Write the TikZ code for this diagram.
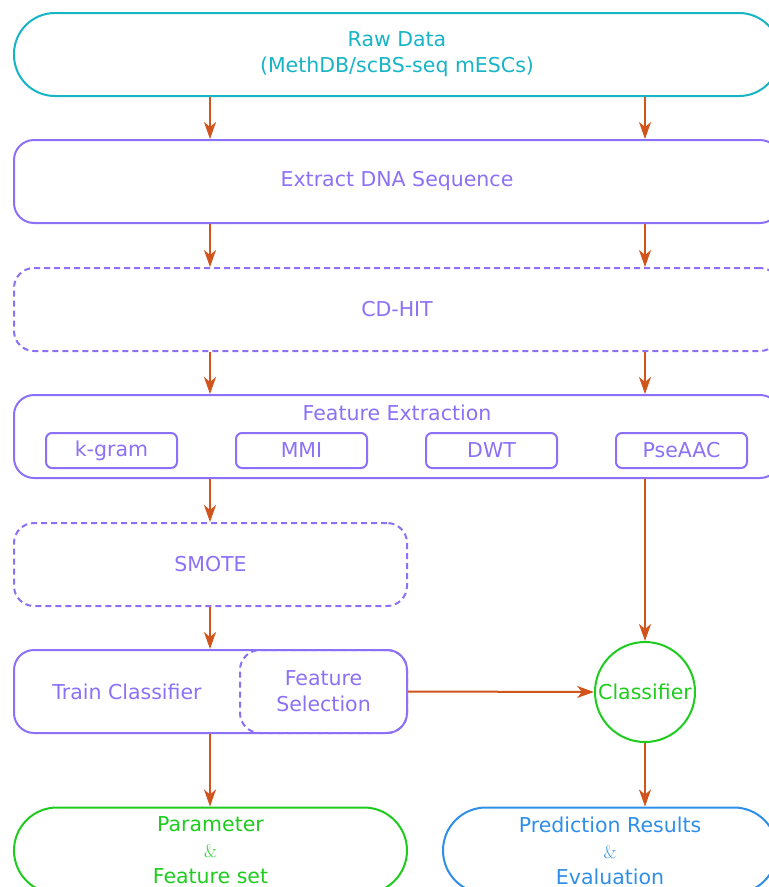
\documentclass[tikz,border=0pt]{standalone}
\usepackage{fontspec}
\newfontfamily\dvs{DejaVu Sans}
\usetikzlibrary{arrows.meta,positioning}
\definecolor{rawcol}{RGB}{23,180,198}
\definecolor{stepcol}{RGB}{140,112,246}
\definecolor{arrcol}{RGB}{208,84,28}
\definecolor{okcol}{RGB}{30,204,30}
\definecolor{rescol}{RGB}{46,142,232}
\tikzset{
  stepbox/.style={draw=stepcol, text=stepcol, line width=2pt, rounded corners=20pt,
    minimum height=83pt, inner sep=0pt, align=center,
    font={\dvs\fontsize{20.5}{26}\selectfont}},
  dashbox/.style={stepbox, dash pattern=on 6pt off 4pt},
  subbox/.style={stepbox, rounded corners=6pt, minimum width=131pt, minimum height=35pt},
  endbox/.style={stepbox, rounded corners=43pt, minimum height=86pt},
  flow/.style={draw=arrcol, line width=2pt, -{Stealth[length=17pt,width=12pt,inset=5pt]}}
}
\newcommand{\andsign}{{\rmfamily\fontsize{18}{18}\selectfont\&}}
\begin{document}
\begin{tikzpicture}[x=1pt,y=-1pt]
    \useasboundingbox (0,0) rectangle (769,887);
    \clip (0,0) rectangle (769,887);
    \coordinate (colL) at (210,0); % left arrow column
    \coordinate (colR) at (645,0); % right arrow column
    % shared steps
    \node[stepbox, rounded corners=41pt, draw=rawcol, text=rawcol, minimum width=766pt] (raw) at (397,54.5) {Raw Data\\(MethDB/scBS-seq mESCs)};
    \node[stepbox, minimum width=766pt] (dna) at (397,181.5) {Extract DNA Sequence};
    \node[dashbox, minimum width=766pt] (cdhit) at (397,309.5) {CD-HIT};
    \node[stepbox, minimum width=766pt] (fe) at (397,436.5) {};
    \node[text=stepcol, font={\dvs\fontsize{20.5}{26}\selectfont}] (fetitle) at (397,413) {Feature Extraction};
    \node[subbox] (kgram) at (111.5,450.5) {k-gram};
    \node[subbox] (mmi) at (301.5,450.5) {MMI};
    \node[subbox] (dwt) at (491.5,450.5) {DWT};
    \node[subbox] (pseaac) at (681.5,450.5) {PseAAC};
    % training side
    \node[dashbox, minimum width=393pt] (smote) at (210.5,564.5) {SMOTE};
    \node[stepbox, minimum width=393pt] (train) at (210.5,691.5) {};
    \node[text=stepcol, font={\dvs\fontsize{20.5}{26}\selectfont}] (trainlbl) at (127,692) {Train Classifier};
    \node[dashbox, minimum width=167pt] (fsel) at (323.5,691.5) {Feature\\Selection};
    % prediction side
    \node[circle, draw=okcol, text=okcol, line width=2pt, minimum size=100pt, inner sep=0pt,
          font={\dvs\fontsize{20.5}{26}\selectfont}] (clf) at (645,692) {Classifier};
    \node[endbox, draw=okcol, text=okcol, minimum width=393pt] (param) at (210.5,850.5) {Parameter\\\andsign\\Feature set};
    \node[endbox, draw=rescol, text=rescol, minimum width=334pt] (pred) at (610,850.5) {Prediction Results\\\andsign\\Evaluation};

    \foreach \c in {colL,colR} {
      \draw[flow] (raw.south -| \c) -- (dna.north -| \c);
      \draw[flow] (dna.south -| \c) -- (cdhit.north -| \c);
      \draw[flow] (cdhit.south -| \c) -- (fe.north -| \c);
    }
    \draw[flow] (fe.south -| colL) -- (smote.north -| colL);
    \draw[flow] (fe.south -| colR) -- (clf.north);
    \draw[flow] (smote.south -| colL) -- (train.north -| colL);
    \draw[flow] (fsel.east) -- (clf.west);
    \draw[flow] (train.south -| colL) -- (param.north -| colL);
    \draw[flow] (clf.south) -- (pred.north -| colR);
\end{tikzpicture}
\end{document}
